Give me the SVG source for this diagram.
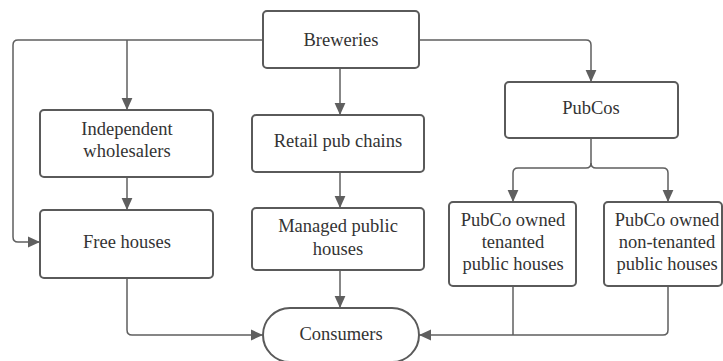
<svg xmlns="http://www.w3.org/2000/svg" width="723" height="361" viewBox="0 0 723 361">
<defs>
<style>
.box{fill:#fff;stroke:#5a5a5a;stroke-width:2}
.t{font-family:'Liberation Serif','DejaVu Serif',serif;font-size:18.5px;fill:#333;text-anchor:middle;dominant-baseline:central}
.c{fill:none;stroke:#5f5f5f;stroke-width:1.5}
</style>
<marker id="ah" markerUnits="userSpaceOnUse" markerWidth="12" markerHeight="12" viewBox="0 0 10 10" refX="10" refY="5" orient="auto">
<path d="M0,0.5 L10,5 L0,9.5 Z" fill="#5f5f5f"/>
</marker>
</defs>
<rect width="723" height="361" fill="#fff"/>
<g id="connectors">
<path class="c" d="M263,40 H18 Q13,40 13,45 V237 Q13,242 18,242 H40" marker-end="url(#ah)"/>
<path class="c" d="M127,40 V110" marker-end="url(#ah)"/>
<path class="c" d="M127,177 V210" marker-end="url(#ah)"/>
<path class="c" d="M340,68 V115" marker-end="url(#ah)"/>
<path class="c" d="M340,172 V208" marker-end="url(#ah)"/>
<path class="c" d="M340,270 V308" marker-end="url(#ah)"/>
<path class="c" d="M127,278 V330 Q127,335 132,335 H263" marker-end="url(#ah)"/>
<path class="c" d="M419,40 H586 Q591,40 591,45 V82" marker-end="url(#ah)"/>
<path class="c" d="M591,138 V163 Q591,168 586,168 H518 Q513,168 513,173 V202" marker-end="url(#ah)"/>
<path class="c" d="M591,163 Q591,168 596,168 H663 Q668,168 668,173 V202" marker-end="url(#ah)"/>
<path class="c" d="M513,286 V335"/>
<path class="c" d="M668,286 V330 Q668,335 663,335 H419" marker-end="url(#ah)"/>
</g>
<g id="breweries">
<rect class="box" x="263" y="11" width="156" height="57" rx="4"/>
<text class="t" x="341" y="40">Breweries</text>
</g>
<g id="wholesalers">
<rect class="box" x="40" y="110" width="173" height="67" rx="4"/>
<text class="t" x="127" y="129">Independent</text>
<text class="t" x="127" y="151">wholesalers</text>
</g>
<g id="retail">
<rect class="box" x="252" y="115" width="172" height="57" rx="4"/>
<text class="t" x="338" y="141">Retail pub chains</text>
</g>
<g id="pubcos">
<rect class="box" x="505" y="82" width="173" height="56" rx="4"/>
<text class="t" x="591" y="108">PubCos</text>
</g>
<g id="free">
<rect class="box" x="40" y="210" width="173" height="68" rx="4"/>
<text class="t" x="127" y="242">Free houses</text>
</g>
<g id="managed">
<rect class="box" x="252" y="208" width="172" height="62" rx="4"/>
<text class="t" x="338" y="226">Managed public</text>
<text class="t" x="338" y="249">houses</text>
</g>
<g id="tenanted">
<rect class="box" x="449" y="202" width="127" height="84" rx="4"/>
<text class="t" x="513" y="220">PubCo owned</text>
<text class="t" x="513" y="242">tenanted</text>
<text class="t" x="513" y="264">public houses</text>
</g>
<g id="nontenanted">
<rect class="box" x="604" y="202" width="118" height="84" rx="4"/>
<text class="t" x="667" y="220">PubCo owned</text>
<text class="t" x="667" y="242">non-tenanted</text>
<text class="t" x="667" y="264">public houses</text>
</g>
<g id="consumers">
<rect class="box" x="263" y="308" width="156" height="54" rx="27"/>
<text class="t" x="341" y="334">Consumers</text>
</g>
</svg>
